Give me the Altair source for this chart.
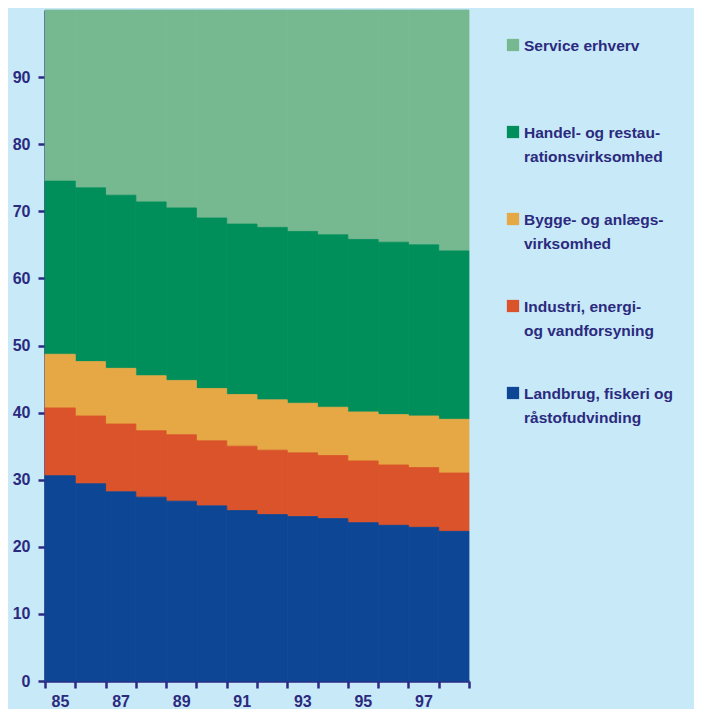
import altair as alt
import pandas as pd

# Years (19xx), one step per year
years = [85, 86, 87, 88, 89, 90, 91, 92, 93, 94, 95, 96, 97, 98]

categories = [
    "Service erhverv",
    "Handel- og restaurationsvirksomhed",
    "Bygge- og anlægsvirksomhed",
    "Industri, energi- og vandforsyning",
    "Landbrug, fiskeri og råstofudvinding",
]
legend_lines = [
    ["Service erhverv"],
    ["Handel- og restau-", "rationsvirksomhed"],
    ["Bygge- og anlægs-", "virksomhed"],
    ["Industri, energi-", "og vandforsyning"],
    ["Landbrug, fiskeri og", "råstofudvinding"],
]

# Shares in percent
landbrug = [30.6, 29.4, 28.2, 27.4, 26.8, 26.1, 25.4, 24.8, 24.5, 24.2, 23.6, 23.2, 22.9, 22.3]
industri = [10.1, 10.1, 10.1, 9.9, 9.9, 9.7, 9.6, 9.6, 9.5, 9.4, 9.2, 9.0, 8.9, 8.7]
bygge = [8.0, 8.1, 8.3, 8.2, 8.1, 7.8, 7.7, 7.5, 7.4, 7.2, 7.3, 7.5, 7.7, 8.0]
handel = [25.8, 25.9, 25.8, 25.9, 25.7, 25.4, 25.4, 25.7, 25.6, 25.7, 25.7, 25.7, 25.5, 25.1]
service = [25.5, 26.5, 27.6, 28.6, 29.5, 31.0, 31.9, 32.4, 33.0, 33.5, 34.2, 34.6, 35.0, 35.9]

series = [service, handel, bygge, industri, landbrug]
colors = ["#76b991", "#008f5a", "#e5a845", "#db532a", "#0c4695"]

NAVY = "#2d2a84"
TEXT = "#2b2a7e"
FONT = "Liberation Sans, Arial, sans-serif"

rows = []
for ci, (cat, vals) in enumerate(zip(categories, series)):
    for y, v in zip(years, vals):
        rows.append({"year": y, "cat": cat, "value": v, "order": len(categories) - 1 - ci})
df = pd.DataFrame(rows)

leg = pd.DataFrame({
    "cat": categories,
    "text": ["\n".join(l) for l in legend_lines],
    "rank": list(range(len(categories))),
})

color_scale = alt.Scale(domain=categories, range=colors)

areas = (
    alt.Chart(df)
    .transform_stack(stack="value", groupby=["year"], as_=["y0", "y1"],
                     sort=[alt.SortField("order", "ascending")])
    .transform_calculate(x2="datum.year + 1")
    .mark_rect(strokeWidth=0.8)
    .encode(
        x=alt.X("year:Q", scale=alt.Scale(domain=[85, 99], nice=False, zero=False),
                axis=alt.Axis(values=list(range(85, 100)), title=None,
                              labelExpr="(datum.value % 2 == 1 && datum.value < 98) ? datum.label : ''",
                              labelOffset=15, labelOverlap=False, labelFlush=False,
                              labelPadding=5, format="d")),
        x2="x2:Q",
        y=alt.Y("y0:Q", scale=alt.Scale(domain=[0, 100], nice=False),
                axis=alt.Axis(values=list(range(0, 100, 10)), title=None, labelPadding=8)),
        y2="y1:Q",
        color=alt.Color("cat:N", scale=color_scale, legend=None),
        stroke=alt.Stroke("cat:N", scale=color_scale, legend=None),
    )
)

legend_base = alt.Chart(leg).transform_calculate(ly="35 + datum.rank * 87")

squares = legend_base.mark_square(size=150, opacity=1).encode(
    x=alt.value(468),
    y=alt.Y("ly:Q", scale=None, axis=None),
    color=alt.Color("cat:N", scale=color_scale, legend=None),
)

labels = legend_base.mark_text(
    align="left", baseline="alphabetic", dy=6, lineBreak="\n", lineHeight=24,
    font=FONT, fontSize=15.5, fontWeight="bold", color=TEXT,
).encode(
    x=alt.value(479),
    y=alt.Y("ly:Q", scale=None, axis=None),
    text="text:N",
)

chart = (
    alt.layer(areas, squares, labels)
    .properties(
        width=424, height=671,
        padding={"left": 37, "top": 2, "right": 225, "bottom": 28},
        autosize=alt.AutoSizeParams(type="none"),
        background="#c8e9f8",
    )
    .configure_view(stroke=None)
    .configure_axis(
        grid=False, domainColor=NAVY, domainWidth=2.5,
        tickColor=NAVY, tickWidth=2.5, tickSize=7,
        labelColor=TEXT, labelFont=FONT, labelFontSize=16, labelFontWeight="bold",
    )
)

chart.save("out.html", embed_options={"renderer": "svg", "actions": False})
